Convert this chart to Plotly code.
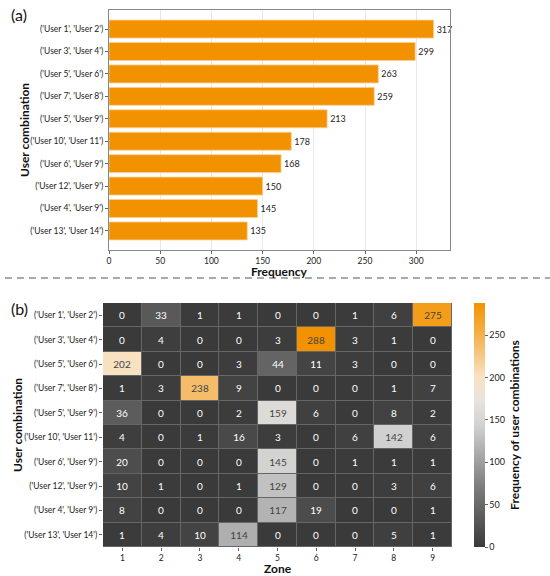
import plotly.graph_objects as go

combos = ["('User 1', 'User 2')", "('User 3', 'User 4')", "('User 5', 'User 6')",
          "('User 7', 'User 8')", "('User 5', 'User 9')", "('User 10', 'User 11')",
          "('User 6', 'User 9')", "('User 12', 'User 9')", "('User 4', 'User 9')",
          "('User 13', 'User 14')"]
frequency = [317, 299, 263, 259, 213, 178, 168, 150, 145, 135]
zones = ["1", "2", "3", "4", "5", "6", "7", "8", "9"]
zone_counts = [
    [0, 33, 1, 1, 0, 0, 1, 6, 275],
    [0, 4, 0, 0, 3, 288, 3, 1, 0],
    [202, 0, 0, 3, 44, 11, 3, 0, 0],
    [1, 3, 238, 9, 0, 0, 0, 1, 7],
    [36, 0, 0, 2, 159, 6, 0, 8, 2],
    [4, 0, 1, 16, 3, 0, 6, 142, 6],
    [20, 0, 0, 0, 145, 0, 1, 1, 1],
    [10, 1, 0, 1, 129, 0, 0, 3, 6],
    [8, 0, 0, 0, 117, 19, 0, 0, 1],
    [1, 4, 10, 114, 0, 0, 0, 5, 1],
]
bar_ticks = [0, 50, 100, 150, 200, 250, 300]
cbar_ticks = [0, 50, 100, 150, 200, 250]

FONT = "Lato"
TICK = 8.5
W, H = 550, 576
def px(v):
    return v / W
def py(v):
    return 1 - v / H

fig = go.Figure()

fig.add_trace(go.Bar(
    x=frequency, y=combos, orientation="h", width=0.8,
    marker=dict(color="#F39200", line=dict(color="#f9cf95", width=0.8)),
    text=frequency, textposition="outside", cliponaxis=False,
    textfont=dict(size=9, color="#222", family=FONT),
    xaxis="x", yaxis="y", showlegend=False,
))

colorscale = [
    [0.0, "#3a3a3a"],
    [0.25, "#7e7e7e"],
    [0.5, "#d2d2d2"],
    [0.6, "#e8e4de"],
    [0.7, "#f8e1c2"],
    [0.85, "#f5b658"],
    [1.0, "#f39200"],
]

fig.add_trace(go.Heatmap(
    z=zone_counts, x=zones, y=combos, colorscale=colorscale,
    zmin=0, zmax=288, xgap=1, ygap=1,
    texttemplate="%{z}", textfont=dict(size=10, family=FONT),
    xaxis="x2", yaxis="y2",
    colorbar=dict(
        x=px(474), xanchor="left", y=py(547), yanchor="bottom", ypad=0, xpad=0,
        len=(547 - 303) / H, lenmode="fraction", thickness=11,
        outlinewidth=0, tickvals=cbar_ticks, ticks="outside", ticklen=3,
        tickcolor="#666", tickfont=dict(size=9, color="#222", family=FONT),
        title=dict(text="<b>Frequency of user combinations</b>", side="right",
                   font=dict(size=12, color="#111", family=FONT)),
    ),
))

axis_common = dict(ticks="outside", ticklen=3, tickcolor="#666", automargin=False,
                   tickfont=dict(size=TICK, color="#222", family=FONT))

fig.update_layout(
    width=W, height=H, margin=dict(l=0, r=0, t=0, b=0, autoexpand=False),
    paper_bgcolor="white", plot_bgcolor="#666666",
    font=dict(family=FONT),
    xaxis=dict(domain=[px(109), px(450)], anchor="y", range=[0, 333],
               tickvals=bar_ticks, showgrid=True, gridcolor="#e8e8e8",
               showline=True, linecolor="#888", mirror=True, zeroline=False,
               **axis_common),
    yaxis=dict(domain=[py(250), py(10)], anchor="x", range=[9.85, -0.85],
               showline=True, linecolor="#888", mirror=True, showgrid=False,
               **axis_common),
    xaxis2=dict(domain=[px(103), px(452)], anchor="y2", showgrid=False, zeroline=False,
                **axis_common),
    yaxis2=dict(domain=[py(547), py(303)], anchor="x2", autorange="reversed",
                showgrid=False, zeroline=False,
                **axis_common),
)
# keep top panel white
fig.add_shape(type="rect", xref="x domain", yref="y domain", x0=0, x1=1, y0=0, y1=1,
              fillcolor="white", line=dict(width=0), layer="below")

fig.add_shape(type="line", xref="paper", yref="paper", x0=px(5), x1=1, y0=py(278), y1=py(278),
              line=dict(color="#555", width=1.2, dash="7px,5px"))

def label(text, x, y, size=12, angle=0, bold=True):
    fig.add_annotation(text=f"<b>{text}</b>" if bold else text, xref="paper", yref="paper",
                       x=px(x), y=py(y), xanchor="center", yanchor="middle",
                       textangle=angle, showarrow=False, borderpad=0,
                       font=dict(size=size, color="#111", family=FONT))

label("(a)", 19, 15, size=16, bold=False)
label("(b)", 19, 308, size=16, bold=False)
label("Frequency", (109 + 450) / 2, 271.5)
label("Zone", (103 + 452) / 2, 568.5)
label("User combination", 24, 130, angle=-90)
label("User combination", 17, 425, angle=-90)

fig.write_html("out.html", config={"displayModeBar": False},
               post_script="document.body.style.margin='0px';")
